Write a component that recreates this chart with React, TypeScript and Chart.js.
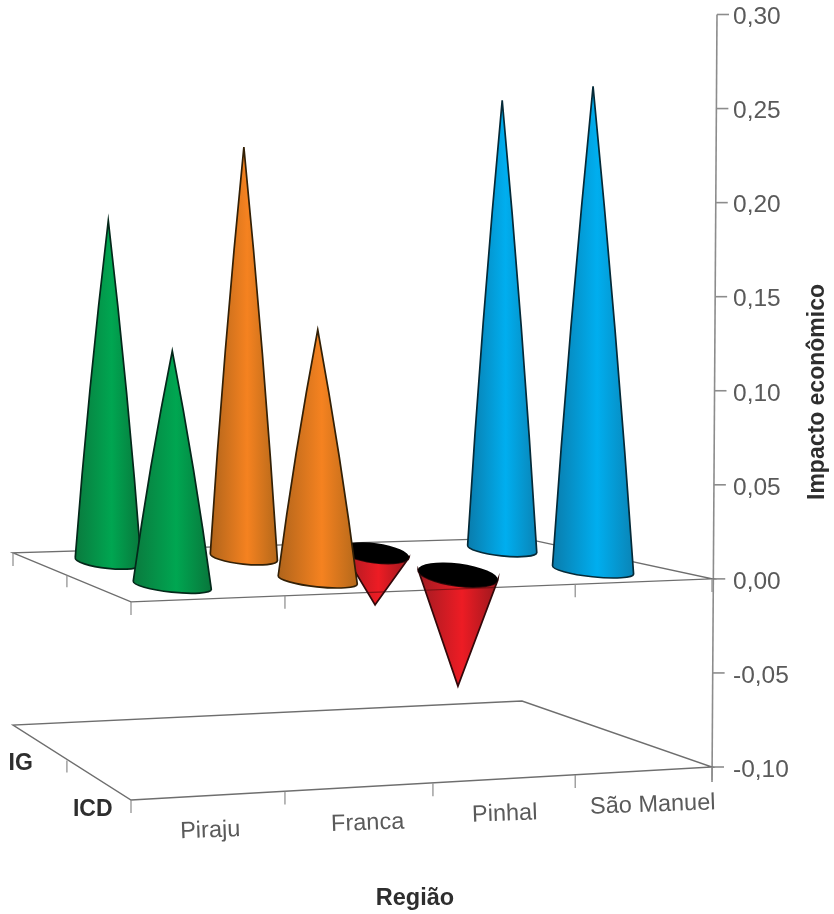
import React, { useEffect, useRef } from "react";
import { Chart, registerables } from "chart.js";

Chart.register(...registerables);

// ---- data ----
const regions = ["Piraju", "Franca", "Pinhal", "São Manuel"];
const depthLabels = ["ICD", "IG"];
const icdValues = [0.123, 0.133, -0.06, 0.264];
const igValues = [0.192, 0.234, -0.03, 0.263];
const yTickStep = 0.05;
const yMin = -0.1;
const yMax = 0.3;
const yAxisTitle = "Impacto econômico";
const xAxisTitle = "Região";

// edge / centre colours of each region's cone
const coneEdgeLeft = ["#0a7a3e", "#b0641b", "#a01b22", "#0a7cac"];
const coneCentre = ["#00a651", "#f58220", "#ed1c24", "#00aeef"];
const coneEdgeRight = ["#08763b", "#b4681a", "#9a181e", "#0a84b6"];
const coneOutline = ["#04281a", "#332006", "#33080a", "#052a38"];

// ---- layout of the perspective box (offsets from the axis origin at value 0) ----
const FONT = '"Liberation Sans", Arial, sans-serif';
const floorFL = [-581, 23];
const floorFR = [0, 0];
const floorBR = [-190, -41];
const floorBL = [-699, -26];
const heightFL = 198 / 188;
const heightFR = 1;
const heightBR = 163 / 188;
const heightBL = 172 / 188;
const regionNudge = [
  [1.5, 35],
  [8, 36],
  [0, 35],
  [8.5, 34],
];

function makeProjector(chart: any) {
  const xs = chart.scales.x;
  const zs = chart.scales.z;
  const ys = chart.scales.y;
  const ox = chart.chartArea.right;
  const oy = ys.getPixelForValue(0);
  const [x0, y0] = [floorFL[0] + ox, floorFL[1] + oy];
  const [x1, y1] = [floorFR[0] + ox, floorFR[1] + oy];
  const [x2, y2] = [floorBR[0] + ox, floorBR[1] + oy];
  const [x3, y3] = [floorBL[0] + ox, floorBL[1] + oy];
  const dx1 = x1 - x2, dx2 = x3 - x2, sx = x0 - x1 + x2 - x3;
  const dy1 = y1 - y2, dy2 = y3 - y2, sy = y0 - y1 + y2 - y3;
  const den = dx1 * dy2 - dx2 * dy1;
  const g = (sx * dy2 - dx2 * sy) / den;
  const h = (dx1 * sy - sx * dy1) / den;
  const a = x1 - x0 + g * x1, b = x3 - x0 + h * x3, c = x0;
  const d = y1 - y0 + g * y1, e = y3 - y0 + h * y3, f = y0;
  const project = (uIn: number, v: number, val: number) => {
    const u = uIn - 0.04 * uIn * (1 - uIn);
    const w = g * u + h * v + 1;
    const k =
      (1 - u) * (1 - v) * heightFL +
      u * (1 - v) * heightFR +
      u * v * heightBR +
      (1 - u) * v * heightBL;
    return {
      x: (a * u + b * v + c) / w,
      y: (d * u + e * v + f) / w + (ys.getPixelForValue(val) - oy) * k,
    };
  };
  const uOf = (i: number) => (xs.getPixelForValue(i) - xs.left) / xs.width;
  const vOf = (i: number) => (zs.getPixelForValue(i) - zs.left) / zs.width;
  return { project, uOf, vOf };
}

function line(ctx: CanvasRenderingContext2D, p: any, q: any) {
  ctx.beginPath();
  ctx.moveTo(p.x, p.y);
  ctx.lineTo(q.x, q.y);
  ctx.stroke();
}

function drawPlane(ctx: CanvasRenderingContext2D, project: any, val: number) {
  ctx.strokeStyle = "#6e6e6e";
  ctx.lineWidth = 1.4;
  ctx.beginPath();
  const corners = [project(0, 0, val), project(1, 0, val), project(1, 1, val), project(0, 1, val)];
  ctx.moveTo(corners[0].x, corners[0].y);
  for (let i = 1; i < 4; i++) ctx.lineTo(corners[i].x, corners[i].y);
  ctx.closePath();
  ctx.stroke();
  ctx.strokeStyle = "#8a8a8a";
  ctx.lineWidth = 1.2;
  for (let i = 0; i <= regions.length; i++) {
    const p = project(i / regions.length, 0, val);
    line(ctx, p, { x: p.x, y: p.y + 13 });
  }
  const mid = project(0, 0.5, val);
  line(ctx, mid, { x: mid.x, y: mid.y + 12 });
  if (val === 0) {
    const back = project(0, 1, val);
    line(ctx, back, { x: back.x, y: back.y + 13 });
  }
}

function drawCone(
  ctx: CanvasRenderingContext2D,
  proj: any,
  region: number,
  depth: number,
  val: number
) {
  const { project, uOf, vOf } = proj;
  const u = uOf(region);
  const v = vOf(depth);
  const base = project(u, v, 0);
  const tip = project(u, v, val);
  const rx = 43 - 12 * v + (u - 0.5) * 2;
  const neg = val < 0;
  const ry = neg ? 12 - 3 * v : 7;
  const rot = ((neg ? 7.5 : 6) * Math.PI) / 180;
  const grad = ctx.createLinearGradient(base.x - rx, 0, base.x + rx, 0);
  grad.addColorStop(0, coneEdgeLeft[region]);
  grad.addColorStop(0.55, coneCentre[region]);
  grad.addColorStop(1, coneEdgeRight[region]);

  const rightPt = { x: base.x + rx * Math.cos(rot), y: base.y + rx * Math.sin(rot) };
  const leftPt = { x: base.x - rx * Math.cos(rot), y: base.y - rx * Math.sin(rot) };
  // positive cones bulge very slightly along their sides
  const bulge = neg ? 0 : 3.5;
  const body = new Path2D();
  body.moveTo(tip.x, tip.y);
  body.quadraticCurveTo((tip.x + rightPt.x) / 2 + bulge, (tip.y + rightPt.y) / 2, rightPt.x, rightPt.y);
  body.ellipse(base.x, base.y, rx, ry, rot, 0, Math.PI, false);
  body.quadraticCurveTo((tip.x + leftPt.x) / 2 - bulge, (tip.y + leftPt.y) / 2, tip.x, tip.y);
  body.closePath();

  ctx.fillStyle = grad;
  ctx.fill(body);
  if (neg) {
    // the floor's front edge shows faintly through the red cones
    ctx.save();
    ctx.clip(body);
    ctx.strokeStyle = "rgba(70,10,10,0.55)";
    ctx.lineWidth = 1.2;
    line(ctx, project(0, 0, 0), project(1, 0, 0));
    ctx.restore();
  }
  ctx.strokeStyle = coneOutline[region];
  ctx.lineWidth = 1.7;
  ctx.lineJoin = "miter";
  ctx.stroke(body);
  if (neg) {
    ctx.beginPath();
    ctx.ellipse(base.x, base.y, rx, ry, rot, 0, Math.PI * 2);
    ctx.fillStyle = "#000";
    ctx.fill();
  }
}

const conePlugin = {
  id: "cones",
  // the bars are replaced by cones
  beforeDatasetDraw: () => false,
  beforeDatasetsDraw(chart: any) {
    const ctx: CanvasRenderingContext2D = chart.ctx;
    const proj = makeProjector(chart);
    const ys = chart.scales.y;
    ctx.save();
    // value axis, very slightly tilted as in a perspective view
    const xAt = (val: number) => chart.chartArea.right + ((val - yMin) / (yMax - yMin)) * 5;
    ctx.strokeStyle = "#8c8c8c";
    ctx.lineWidth = 1.6;
    line(
      ctx,
      { x: xAt(yMax), y: ys.getPixelForValue(yMax) },
      { x: xAt(yMin), y: ys.getPixelForValue(yMin) + 15 }
    );
    ys.ticks.forEach((t: any) => {
      const py = ys.getPixelForValue(t.value);
      line(ctx, { x: xAt(t.value), y: py }, { x: xAt(t.value) + 12, y: py });
    });
    drawPlane(ctx, proj.project, yMin);
    drawPlane(ctx, proj.project, 0);
    // back row first, then front row
    for (let depth = depthLabels.length - 1; depth >= 0; depth--) {
      const values = chart.data.datasets[depth].data;
      values.forEach((val: number, i: number) => drawCone(ctx, proj, i, depth, val));
    }
    ctx.restore();
  },
  afterDatasetsDraw(chart: any) {
    const ctx: CanvasRenderingContext2D = chart.ctx;
    const { project, uOf, vOf } = makeProjector(chart);
    ctx.save();
    ctx.textAlign = "center";
    ctx.textBaseline = "middle";
    // region labels, following the floor's front edge
    ctx.fillStyle = "#5a5a5a";
    ctx.font = `23.5px ${FONT}`;
    regions.forEach((label, i) => {
      const p = project(uOf(i), 0, yMin);
      ctx.save();
      ctx.translate(p.x + regionNudge[i][0], p.y + regionNudge[i][1]);
      ctx.rotate((-2 * Math.PI) / 180);
      ctx.fillText(label, 0, 0);
      ctx.restore();
    });
    // depth labels
    ctx.fillStyle = "#2e2e2e";
    ctx.font = `bold 23px ${FONT}`;
    ctx.textAlign = "right";
    const icd = project(0, vOf(0), yMin);
    const ig = project(0, vOf(1), yMin);
    ctx.fillText(depthLabels[0], icd.x + 15, icd.y + 30);
    ctx.fillText(depthLabels[1], ig.x - 6, ig.y + 21);
    // axis titles
    ctx.textAlign = "center";
    ctx.font = `bold 23.5px ${FONT}`;
    ctx.fillText(xAxisTitle, 415, 899);
    ctx.font = `bold 23px ${FONT}`;
    ctx.translate(818, 392);
    ctx.rotate(-Math.PI / 2);
    ctx.fillText(yAxisTitle, 0, 0);
    ctx.restore();
  },
};

export default function App() {
  const ref = useRef<HTMLCanvasElement | null>(null);
  useEffect(() => {
    if (!ref.current) return;
    const chart = new Chart(ref.current, {
      type: "bar",
      data: {
        labels: regions,
        datasets: [
          { label: depthLabels[0], data: icdValues, backgroundColor: coneCentre },
          { label: depthLabels[1], data: igValues, backgroundColor: coneCentre },
        ],
      },
      options: {
        responsive: false,
        animation: false,
        devicePixelRatio: 1,
        layout: { padding: { top: 14.5, bottom: 147, left: 12, right: 0 } },
        plugins: { legend: { display: false }, tooltip: { enabled: false }, title: { display: false } },
        scales: {
          x: { type: "category", offset: true, display: false },
          z: { axis: "x", type: "category", labels: depthLabels, offset: true, display: false },
          y: {
            type: "linear",
            position: "right",
            min: yMin,
            max: yMax,
            grid: { display: false },
            border: { display: false },
            afterFit: (s: any) => {
              s.width = 122;
              s.paddingTop = 0;
              s.paddingBottom = 0;
            },
            ticks: {
              stepSize: yTickStep,
              padding: 13,
              labelOffset: 3,
              color: "#5a5a5a",
              font: { family: "Liberation Sans", size: 24.5 },
              callback: (v: any) => Number(v).toFixed(2).replace(".", ","),
            },
          },
        },
      } as any,
      plugins: [conePlugin as any],
    });
    return () => chart.destroy();
  }, []);
  return (
    <div style={{ position: "absolute", left: 0, top: 0, width: 834, height: 914, background: "#fff" }}>
      <canvas ref={ref} width={834} height={914} style={{ display: "block", filter: "blur(0.5px)" }} />
    </div>
  );
}
